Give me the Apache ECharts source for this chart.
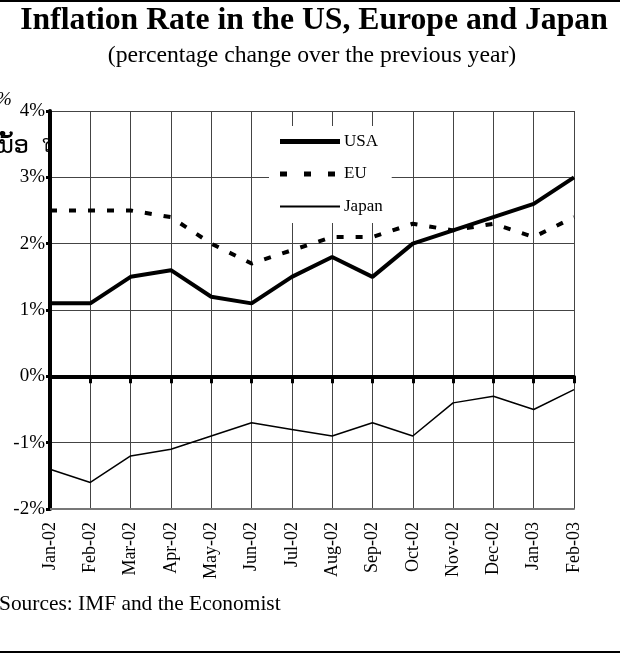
<!DOCTYPE html>
<html><head><meta charset="utf-8">
<script src="https://cdn.jsdelivr.net/npm/echarts@6/dist/echarts.min.js"></script>
<style>html,body{margin:0;padding:0;background:#fff}#c{width:620px;height:653px}</style>
</head><body><div id="c"></div>
<script>
const months = ['Jan-02','Feb-02','Mar-02','Apr-02','May-02','Jun-02','Jul-02','Aug-02','Sep-02','Oct-02','Nov-02','Dec-02','Jan-03','Feb-03'];
const usa   = [1.1, 1.1, 1.5, 1.6, 1.2, 1.1, 1.5, 1.8, 1.5, 2.0, 2.2, 2.4, 2.6, 3.0];
const eu    = [2.5, 2.5, 2.5, 2.4, 2.0, 1.7, 1.9, 2.1, 2.1, 2.3, 2.2, 2.3, 2.1, 2.4];
const japan = [-1.4, -1.6, -1.2, -1.1, -0.9, -0.7, -0.8, -0.9, -0.7, -0.9, -0.4, -0.3, -0.5, -0.2];
const yMin = -2, yMax = 4, yStep = 1;
const titleText = 'Inflation Rate in the US, Europe and Japan';
const subText = '(percentage change over the previous year)';
const sourceText = 'Sources: IMF and the Economist';

const SERIF = '"Liberation Serif", "Times New Roman", serif';
// legend icons drawn in a 60x16 box (corner points fix the box)
const BOX = 'M0,0L0,0M60,16L60,16';
const iconUSA = 'path://' + BOX + 'M0,5.6h60v4.8h-60z';
const iconEU = 'path://' + BOX + 'M0,5.5h7v5h-7zM24,5.5h7v5h-7zM48,5.5h7v5h-7z';
const iconJP = 'path://' + BOX + 'M0,7h60v2h-60z';

const chart = echarts.init(document.getElementById('c'), null, {renderer: 'canvas'});
chart.setOption({
  animation: false,
  backgroundColor: '#fff',
  textStyle: {fontFamily: SERIF, color: '#000'},
  grid: {left: 50, right: 46, top: 111, bottom: 144, containLabel: false, outerBoundsMode: 'none'},
  graphic: [
    {type: 'line', shape: {x1: 0, y1: 1, x2: 620, y2: 1}, style: {stroke: '#000', lineWidth: 2}},
    {type: 'line', shape: {x1: 0, y1: 652, x2: 620, y2: 652}, style: {stroke: '#000', lineWidth: 2}},
    {type: 'text', x: 314, y: 21, style: {text: titleText, font: 'bold 31.7px ' + SERIF, fill: '#000', align: 'center', verticalAlign: 'middle'}},
    {type: 'text', x: 312, y: 56, style: {text: subText, font: '23.7px ' + SERIF, fill: '#000', align: 'center', verticalAlign: 'middle'}},
    {type: 'text', x: -1, y: 604, style: {text: sourceText, font: '21.4px ' + SERIF, fill: '#000', align: 'left', verticalAlign: 'middle'}},
    {type: 'text', x: -4, y: 100, style: {text: '%', font: 'italic 19px ' + SERIF, fill: '#000', align: 'left', verticalAlign: 'middle'}},
    {type: 'text', x: -2, y: 147, style: {text: 'ນັ້ອ', font: '24px "DejaVu Sans"', fill: '#000', align: 'left', verticalAlign: 'middle'}},
    {type: 'text', x: 42, y: 148, z: 100, style: {text: 'ໃ', font: '16px "DejaVu Sans"', fill: '#000', align: 'left', verticalAlign: 'middle'}}
  ],
  legend: {
    left: 269, top: 126,
    orient: 'vertical',
    backgroundColor: '#fff',
    padding: [7, 9, 8, 11],
    itemWidth: 60, itemHeight: 16, itemGap: 15.5,
    textStyle: {fontFamily: SERIF, fontSize: 17, color: '#000', padding: [0, 0, 0, -1]},
    data: [
      {name: 'USA', icon: iconUSA},
      {name: 'EU', icon: iconEU},
      {name: 'Japan', icon: iconJP}
    ]
  },
  xAxis: [
    {
      type: 'category', data: months, boundaryGap: false, position: 'bottom',
      axisLine: {onZero: false, lineStyle: {color: '#777', width: 2}},
      axisTick: {show: false},
      axisLabel: {rotate: 90, interval: 0, margin: 13, fontFamily: SERIF, fontSize: 18, color: '#000'},
      splitLine: {show: true, interval: 0, lineStyle: {color: '#444', width: 1}}
    },
    {
      type: 'category', data: months, boundaryGap: false, position: 'bottom',
      axisLine: {onZero: true, onZeroAxisIndex: 0, lineStyle: {color: '#000', width: 4}},
      axisTick: {show: true, interval: 0, length: 7, lineStyle: {color: '#000', width: 3}},
      axisLabel: {show: false},
      splitLine: {show: false}
    }
  ],
  yAxis: {
    type: 'value', min: yMin, max: yMax, interval: yStep,
    axisLine: {show: true, lineStyle: {color: '#000', width: 4}},
    axisTick: {show: true, length: 4, lineStyle: {color: '#000', width: 3}},
    axisLabel: {formatter: '{value}%', margin: 5, fontFamily: SERIF, fontSize: 19, color: '#000'},
    splitLine: {show: true, lineStyle: {color: '#444', width: 1}}
  },
  series: [
    {name: 'USA', type: 'line', data: usa, symbol: 'none', color: '#000', z: 5,
     lineStyle: {color: '#000', width: 4}},
    {name: 'EU', type: 'line', data: eu, symbol: 'none', color: '#000', z: 4,
     lineStyle: {color: '#000', width: 4, type: [7, 12]}},
    {name: 'Japan', type: 'line', data: japan, symbol: 'none', color: '#000', z: 3,
     lineStyle: {color: '#000', width: 1.5}}
  ]
});
</script>
</body></html>
